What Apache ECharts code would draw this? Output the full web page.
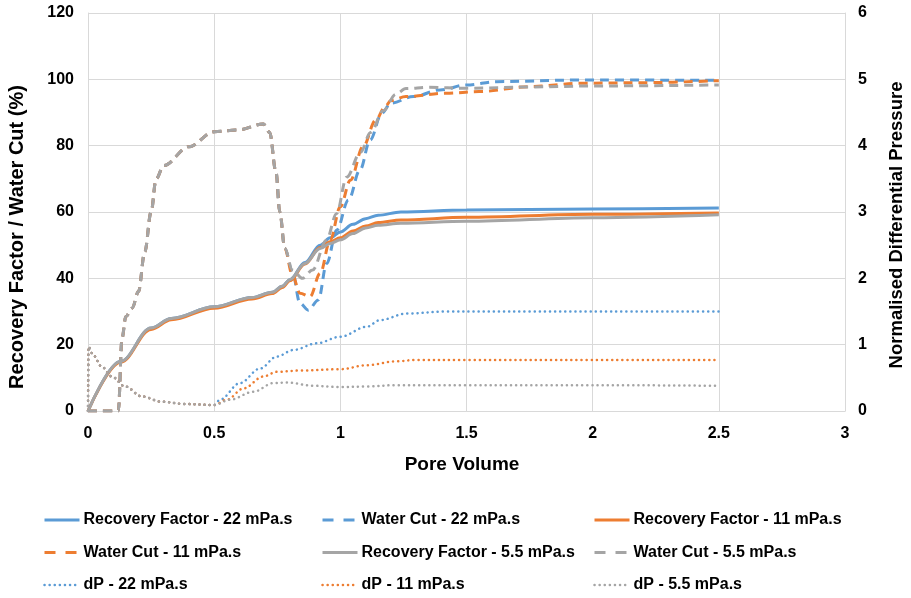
<!DOCTYPE html>
<html>
<head>
<meta charset="utf-8">
<script src="https://cdn.jsdelivr.net/npm/echarts@6/dist/echarts.min.js"></script>
<style>
  html, body { margin: 0; padding: 0; background: #fff; }
  #chart { width: 911px; height: 598px; }
</style>
</head>
<body>
<div id="chart"></div>
<script>
// Pore volume (x) vs recovery factor / water cut (%) and normalised dP
const xTicks = [0, 0.5, 1, 1.5, 2, 2.5, 3];
const leftTicks = [0, 20, 40, 60, 80, 100, 120];
const rightTicks = [0, 1, 2, 3, 4, 5, 6];

const rf22 = [[0,0],[0.13,15],[0.25,25],[0.33,27.9],[0.5,31.4],[0.65,34.2],[0.73,35.8],[0.77,37.6],[0.8,39.6],[0.86,44.8],[0.92,50],[0.96,52.2],[1.0,54],[1.05,56.3],[1.1,58],[1.15,59],[1.24,60],[1.5,60.6],[2,60.9],[2.5,61.2]];
const rf11 = [[0,0],[0.13,14.7],[0.25,24.6],[0.33,27.5],[0.5,31],[0.65,33.8],[0.73,35.4],[0.77,37.2],[0.8,39.3],[0.86,44.3],[0.92,49.3],[0.96,51],[1.0,52.2],[1.05,54.3],[1.1,55.8],[1.15,56.8],[1.24,57.6],[1.5,58.4],[2,59.3],[2.5,59.7]];
const rf55 = [[0,0],[0.13,15],[0.25,25],[0.33,27.9],[0.5,31.4],[0.65,34.2],[0.73,35.8],[0.77,37.6],[0.8,39.6],[0.86,44.5],[0.92,49],[0.96,50.5],[1.0,51.6],[1.05,53.5],[1.1,55.2],[1.15,56],[1.24,56.6],[1.5,57.2],[2,58.3],[2.5,59.2]];

const wc22 = [[0,0],[0.12,0],[0.135,22],[0.15,28.5],[0.175,31],[0.2,36],[0.225,48],[0.25,60],[0.27,70],[0.3,74],[0.4,79.7],[0.5,84.2],[0.59,84.7],[0.695,86.5],[0.72,84],[0.745,72],[0.76,60],[0.78,49],[0.81,42],[0.84,32.5],[0.873,30.4],[0.913,33.5],[0.946,44.5],[0.986,54.6],[1.032,63.6],[1.078,72.7],[1.118,81.7],[1.164,89.7],[1.2,92.8],[1.29,94.8],[1.395,96.8],[1.5,98.3],[1.62,99.3],[1.95,99.8],[2.5,99.7]];
const wc11 = [[0,0],[0.12,0],[0.135,22],[0.15,28.5],[0.175,31],[0.2,36],[0.225,48],[0.25,60],[0.27,70],[0.3,74],[0.4,79.7],[0.5,84.2],[0.59,84.7],[0.695,86.5],[0.72,84],[0.745,72],[0.76,60],[0.78,49],[0.81,41],[0.84,35.5],[0.88,34.5],[0.92,41.5],[0.96,51.6],[1.0,61.6],[1.04,69.6],[1.09,79.7],[1.14,87.7],[1.18,92],[1.2,93.6],[1.26,94.8],[1.42,95.8],[1.55,96.3],[1.75,97.8],[1.95,98.8],[2.2,99],[2.5,99.6]];
const wc55 = [[0,0],[0.12,0],[0.135,22],[0.15,28.5],[0.175,31],[0.2,36],[0.225,48],[0.25,60],[0.27,70],[0.3,74],[0.4,79.7],[0.5,84.2],[0.59,84.7],[0.695,86.5],[0.72,84],[0.745,72],[0.76,60],[0.78,49],[0.81,42.5],[0.85,40],[0.89,42.5],[0.945,51.5],[0.985,59.5],[1.025,70.5],[1.08,78],[1.12,84],[1.17,90.5],[1.22,95.5],[1.26,97.2],[1.35,97.6],[1.5,97.3],[1.75,97.7],[2,98],[2.5,98.3]];

const dp22 = [[0,0],[0.002,0.97],[0.021,0.84],[0.054,0.67],[0.094,0.52],[0.147,0.37],[0.213,0.22],[0.292,0.14],[0.384,0.105],[0.5,0.09],[0.523,0.17],[0.602,0.42],[0.682,0.64],[0.748,0.82],[0.814,0.92],[0.906,1.02],[1.0,1.12],[1.105,1.27],[1.157,1.37],[1.263,1.47],[1.42,1.5],[1.75,1.5],[2,1.5],[2.5,1.5]];
const dp11 = [[0,0],[0.002,0.97],[0.021,0.84],[0.054,0.67],[0.094,0.52],[0.147,0.37],[0.213,0.22],[0.292,0.14],[0.384,0.105],[0.5,0.09],[0.55,0.17],[0.616,0.34],[0.695,0.52],[0.748,0.59],[0.84,0.61],[1.0,0.63],[1.105,0.69],[1.223,0.75],[1.3,0.77],[1.5,0.77],[2,0.77],[2.5,0.77]];
const dp55 = [[0,0],[0.002,0.97],[0.021,0.84],[0.054,0.67],[0.094,0.52],[0.147,0.37],[0.213,0.22],[0.292,0.14],[0.384,0.105],[0.5,0.09],[0.563,0.17],[0.655,0.29],[0.735,0.42],[0.787,0.43],[0.893,0.38],[1.0,0.36],[1.105,0.37],[1.223,0.39],[1.5,0.39],[2,0.39],[2.5,0.38]];

const BLUE = '#5B9BD5', ORANGE = '#ED7D31', GREY = '#A5A5A5';
const FONT = '"Liberation Sans", Arial, sans-serif';
const DASH = [9, 6];
const DOT = [0.1, 5];

function solid(name, data, color) {
  return { name, type: 'line', data, yAxisIndex: 0, symbol: 'none', smooth: 0.35, smoothMonotone: 'x',
    lineStyle: { color, width: 3, type: 'solid' }, itemStyle: { color } };
}
function dashed(name, data, color) {
  return { name, type: 'line', data, yAxisIndex: 0, symbol: 'none', smooth: 0.35, smoothMonotone: 'x',
    lineStyle: { color, width: 3, type: DASH }, itemStyle: { color } };
}
function dotted(name, data, color) {
  return { name, type: 'line', data, yAxisIndex: 1, symbol: 'none', smooth: 0.35, smoothMonotone: 'x',
    lineStyle: { color, width: 2.5, type: DOT, cap: 'round' }, itemStyle: { color } };
}

const names = {
  rf22: 'Recovery Factor - 22 mPa.s', wc22: 'Water Cut - 22 mPa.s', rf11: 'Recovery Factor - 11 mPa.s',
  wc11: 'Water Cut - 11 mPa.s', rf55: 'Recovery Factor - 5.5 mPa.s', wc55: 'Water Cut - 5.5 mPa.s',
  dp22: 'dP - 22 mPa.s', dp11: 'dP - 11 mPa.s', dp55: 'dP - 5.5 mPa.s'
};

// legend entries: dashed ones get a wider "- -" pattern, dotted ones small round dots
function legendItem(name) {
  if (name.indexOf('Water Cut') === 0) return { name, lineStyle: { type: [11, 10], width: 3 } };
  if (name.indexOf('dP') === 0) return { name, lineStyle: { type: [0.1, 5], cap: 'round', width: 2.5 } };
  return { name, lineStyle: { type: 'solid', width: 3 } };
}

function legendColumn(left, list) {
  return {
    orient: 'vertical', left, top: 512, padding: 0,
    itemWidth: 35, itemHeight: 16, itemGap: 16.5,
    itemStyle: { opacity: 0 },
    textStyle: { fontFamily: FONT, fontWeight: 'bold', fontSize: 16, color: '#000', padding: [0, 0, 0, -1] },
    data: list.map(legendItem)
  };
}

const titleStyle = size => ({ fontFamily: FONT, fontWeight: 'bold', fontSize: size, fill: '#000',
  align: 'center', verticalAlign: 'middle' });
const tickFont = { fontFamily: FONT, fontWeight: 'bold', fontSize: 16, color: '#000' };
const GRID_COLOR = '#d9d9d9';

const chart = echarts.init(document.getElementById('chart'));
chart.setOption({
  animation: false,
  backgroundColor: '#fff',
  grid: { left: 88, right: 66, top: 13, bottom: 187, outerBoundsMode: 'none', containLabel: false },
  xAxis: {
    type: 'value', min: xTicks[0], max: xTicks[xTicks.length - 1], interval: 0.5,
    axisLine: { show: true, lineStyle: { color: GRID_COLOR, width: 1 } },
    axisTick: { show: false },
    axisLabel: Object.assign({ margin: 15, formatter: v => String(v) }, tickFont),
    splitLine: { show: true, lineStyle: { color: GRID_COLOR, width: 1 } }
  },
  yAxis: [
    {
      type: 'value', min: leftTicks[0], max: leftTicks[leftTicks.length - 1], interval: 20,
      axisLine: { show: true, lineStyle: { color: GRID_COLOR } },
      axisTick: { show: false },
      axisLabel: Object.assign({ margin: 14 }, tickFont),
      splitLine: { show: true, lineStyle: { color: GRID_COLOR, width: 1 } }
    },
    {
      type: 'value', min: rightTicks[0], max: rightTicks[rightTicks.length - 1], interval: 1,
      axisLine: { show: true, lineStyle: { color: GRID_COLOR } },
      axisTick: { show: false },
      axisLabel: Object.assign({ margin: 13 }, tickFont),
      splitLine: { show: false }
    }
  ],
  // axis titles
  graphic: [
    { type: 'text', x: 462, y: 465, style: Object.assign({ text: 'Pore Volume' }, titleStyle(19)) },
    { type: 'text', x: 17, y: 237, rotation: Math.PI / 2,
      style: Object.assign({ text: 'Recovery Factor / Water Cut (%)' }, titleStyle(20)) },
    { type: 'text', x: 897, y: 225, rotation: Math.PI / 2,
      style: Object.assign({ text: 'Normalised Differential Pressure' }, titleStyle(18.5)) }
  ],
  legend: [
    legendColumn(43, [names.rf22, names.wc11, names.dp22]),
    legendColumn(321, [names.wc22, names.rf55, names.dp11]),
    legendColumn(593, [names.rf11, names.wc55, names.dp55])
  ],
  series: [
    solid(names.rf22, rf22, BLUE),
    dashed(names.wc22, wc22, BLUE),
    solid(names.rf11, rf11, ORANGE),
    dashed(names.wc11, wc11, ORANGE),
    solid(names.rf55, rf55, GREY),
    dashed(names.wc55, wc55, GREY),
    dotted(names.dp22, dp22, BLUE),
    dotted(names.dp11, dp11, ORANGE),
    dotted(names.dp55, dp55, GREY)
  ]
});
</script>
</body>
</html>
